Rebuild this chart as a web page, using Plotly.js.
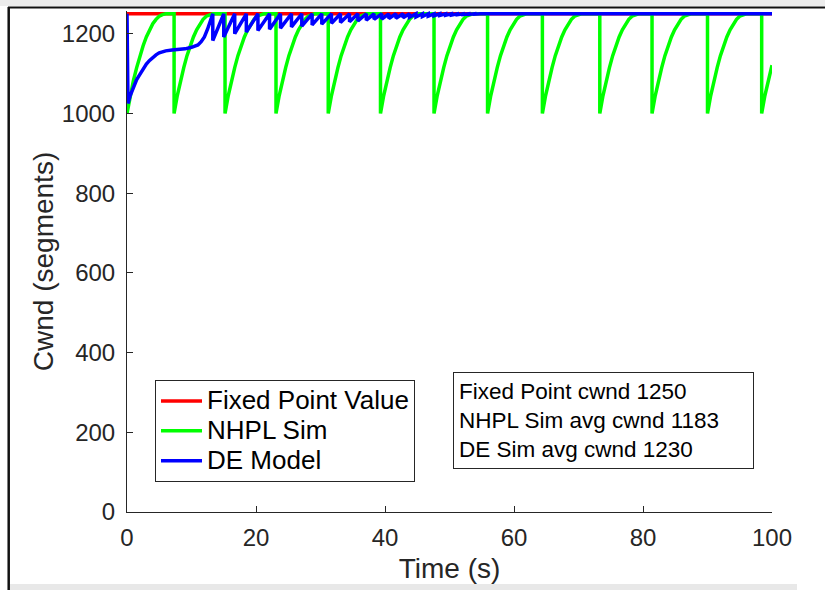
<!DOCTYPE html>
<html>
<head>
<meta charset="utf-8">
<script src="https://cdn.plot.ly/plotly-3.0.1.min.js"></script>
<style>
html,body{margin:0;padding:0;background:#fff;}
#chart{width:825px;height:590px;}
</style>
</head>
<body>
<div id="chart"></div>
<script>
// ---- data ----
const xTicks = [0, 20, 40, 60, 80, 100];
const yTicks = [0, 200, 400, 600, 800, 1000, 1200];

const fixedT = [0, 100];
const fixedV = [1250, 1250];

const nhplT = [
  0, 0.5, 1, 1.5, 2, 2.5, 3, 3.5, 4, 4.5, 5, 5.5, 6,
  7.3, 7.3, 7.8, 8.3, 8.8, 9.3, 9.8, 10.3, 10.8, 11.3, 11.8, 12.3, 12.8, 13.3,
  15.2, 15.2, 15.7, 16.2, 16.7, 17.2, 17.7, 18.2, 18.7, 19.2, 19.7, 20.2, 20.7, 21.2,
  23.1, 23.1, 23.6, 24.1, 24.6, 25.1, 25.6, 26.1, 26.6, 27.1, 27.6, 28.1, 28.6, 29.1,
  31.2, 31.2, 31.7, 32.2, 32.7, 33.2, 33.7, 34.2, 34.7, 35.2, 35.7, 36.2, 36.7, 37.2,
  39.3, 39.3, 39.8, 40.3, 40.8, 41.3, 41.8, 42.3, 42.8, 43.3, 43.8, 44.3, 44.8, 45.3,
  47.6, 47.6, 48.1, 48.6, 49.1, 49.6, 50.1, 50.6, 51.1, 51.6, 52.1, 52.6, 53.1, 53.6,
  55.9, 55.9, 56.4, 56.9, 57.4, 57.9, 58.4, 58.9, 59.4, 59.9, 60.4, 60.9, 61.4, 61.9,
  64.4, 64.4, 64.9, 65.4, 65.9, 66.4, 66.9, 67.4, 67.9, 68.4, 68.9, 69.4, 69.9, 70.4,
  73.3, 73.3, 73.8, 74.3, 74.8, 75.3, 75.8, 76.3, 76.8, 77.3, 77.8, 78.3, 78.8, 79.3,
  81.4, 81.4, 81.9, 82.4, 82.9, 83.4, 83.9, 84.4, 84.9, 85.4, 85.9, 86.4, 86.9, 87.4,
  90.0, 90.0, 90.5, 91.0, 91.5, 92.0, 92.5, 93.0, 93.5, 94.0, 94.5, 95.0, 95.5, 96.0,
  98.4, 98.4, 98.9, 99.4, 99.9, 100
];
const nhplV = [
  1000, 1045, 1083, 1115, 1145, 1170, 1192, 1210, 1225, 1236, 1244, 1248, 1250,
  1250, 1000, 1045, 1083, 1115, 1145, 1170, 1192, 1210, 1225, 1236, 1244, 1248, 1250,
  1250, 1000, 1045, 1083, 1115, 1145, 1170, 1192, 1210, 1225, 1236, 1244, 1248, 1250,
  1250, 1000, 1045, 1083, 1115, 1145, 1170, 1192, 1210, 1225, 1236, 1244, 1248, 1250,
  1250, 1000, 1045, 1083, 1115, 1145, 1170, 1192, 1210, 1225, 1236, 1244, 1248, 1250,
  1250, 1000, 1045, 1083, 1115, 1145, 1170, 1192, 1210, 1225, 1236, 1244, 1248, 1250,
  1250, 1000, 1045, 1083, 1115, 1145, 1170, 1192, 1210, 1225, 1236, 1244, 1248, 1250,
  1250, 1000, 1045, 1083, 1115, 1145, 1170, 1192, 1210, 1225, 1236, 1244, 1248, 1250,
  1250, 1000, 1045, 1083, 1115, 1145, 1170, 1192, 1210, 1225, 1236, 1244, 1248, 1250,
  1250, 1000, 1045, 1083, 1115, 1145, 1170, 1192, 1210, 1225, 1236, 1244, 1248, 1250,
  1250, 1000, 1045, 1083, 1115, 1145, 1170, 1192, 1210, 1225, 1236, 1244, 1248, 1250,
  1250, 1000, 1045, 1083, 1115, 1145, 1170, 1192, 1210, 1225, 1236, 1244, 1248, 1250,
  1250, 1000, 1045, 1083, 1115, 1121
];

const deT = [
  0, 0.15, 0.5, 1, 1.5, 2, 2.5, 3, 3.5, 4, 4.5, 5, 5.5, 6, 7, 8, 9, 10, 10.5, 11, 11.5, 12, 12.5, 13, 13.3,
  13.3, 15.0, 15.0, 16.7, 16.7, 18.5, 18.5, 20.3, 20.3, 22.1, 22.1, 23.8, 23.8, 25.5, 25.5, 27.1,
  27.1, 28.7, 28.7, 30.2, 30.2, 31.7, 31.7, 33.1, 33.1, 34.5, 34.5, 35.8, 35.8, 37.1, 37.1, 38.3,
  38.3, 39.5, 39.5, 40.6, 40.6, 41.7, 41.7, 42.8, 42.8, 43.8, 43.8, 44.8, 44.8, 45.8, 45.8, 46.7,
  46.7, 47.6, 47.6, 48.5, 48.5, 49.4, 49.4, 50.3, 50.3, 51.2, 51.2, 52.1, 52.1, 53.0, 53.0, 53.9,
  53.9, 54.8, 100
];
const deV = [
  1250, 1025, 1045, 1068, 1085, 1098, 1112, 1124, 1133, 1141, 1147, 1152, 1155, 1157, 1159, 1160, 1162, 1166, 1169, 1172, 1180, 1192, 1212, 1238, 1250,
  1183, 1250, 1192, 1250, 1200, 1250, 1204, 1250, 1208, 1250, 1211, 1250, 1214, 1250, 1217, 1250,
  1219, 1250, 1222, 1250, 1224, 1250, 1226, 1250, 1228, 1250, 1230, 1250, 1232, 1250, 1234, 1250,
  1236, 1250, 1237, 1250, 1238, 1250, 1239, 1250, 1240, 1250, 1241, 1250, 1242, 1250, 1243, 1250,
  1244, 1250, 1245, 1250, 1246, 1250, 1246.5, 1250, 1247, 1250, 1247.5, 1250, 1248, 1250, 1248.5, 1250,
  1249, 1250, 1250
];

const seriesNames = ['Fixed Point Value', 'NHPL Sim', 'DE Model'];
const boxLines = ['Fixed Point cwnd 1250', 'NHPL Sim avg cwnd 1183', 'DE Sim avg cwnd 1230'];

// ---- layout geometry (pixels) ----
const W = 825, H = 590;
const M = {l: 127, r: 53, t: 11, b: 78};
const PW = W - M.l - M.r, PH = H - M.t - M.b;
const px = x => (x - M.l) / PW;
const py = y => (H - M.b - y) / PH;

const FONT = '"Liberation Sans", Arial, Helvetica, sans-serif';
const AX = '#262626';
const legendLabel = s => '<span style="font-size:26px">' + s + '</span>';

const traces = [
  {x: fixedT, y: fixedV, name: legendLabel(seriesNames[0]), type: 'scatter', mode: 'lines',
   line: {color: '#ff0000', width: 3.5}},
  {x: nhplT, y: nhplV, name: legendLabel(seriesNames[1]), type: 'scatter', mode: 'lines',
   line: {color: '#00ff00', width: 3.5}},
  {x: deT, y: deV, name: legendLabel(seriesNames[2]), type: 'scatter', mode: 'lines',
   line: {color: '#0000ff', width: 3.5}}
];

const layout = {
  width: W, height: H,
  margin: M,
  paper_bgcolor: '#ffffff',
  plot_bgcolor: '#ffffff',
  font: {family: FONT, color: AX, size: 24},
  showlegend: true,
  xaxis: {
    range: [0, 100], tickvals: xTicks, ticktext: xTicks.map(String),
    showgrid: false, zeroline: false, showline: true, linecolor: AX, linewidth: 1,
    ticks: 'inside', ticklen: 6, tickwidth: 1, tickcolor: AX,
    tickfont: {family: FONT, size: 24, color: AX},
    ticklabelstandoff: 4,
    title: {text: 'Time (s)', font: {family: FONT, size: 28, color: AX}, standoff: 8},
    automargin: false, fixedrange: true
  },
  yaxis: {
    range: [0, 1257], tickvals: yTicks, ticktext: yTicks.map(String),
    showgrid: false, zeroline: false, showline: true, linecolor: AX, linewidth: 1,
    ticks: 'inside', ticklen: 6, tickwidth: 1, tickcolor: AX,
    tickfont: {family: FONT, size: 24, color: AX},
    ticklabelstandoff: 6,
    title: {text: 'Cwnd (segments)', font: {family: FONT, size: 28, color: AX}, standoff: 0},
    automargin: false, fixedrange: true
  },
  legend: {
    x: px(155), y: py(380), xanchor: 'left', yanchor: 'top',
    bgcolor: '#ffffff', bordercolor: AX, borderwidth: 1,
    font: {family: FONT, size: 20.7, color: '#000000'},
    itemwidth: 41, tracegroupgap: 0
  },
  annotations: [{
    xref: 'paper', yref: 'paper', x: px(453), y: py(372),
    xanchor: 'left', yanchor: 'top', align: 'left', valign: 'middle',
    text: boxLines.join('<br>'), showarrow: false,
    font: {family: FONT, size: 22.5, color: '#000000'},
    bordercolor: AX, borderwidth: 1, borderpad: 5, bgcolor: '#ffffff',
    width: 289, height: 85
  }],
  shapes: [
    {type: 'rect', xref: 'paper', yref: 'paper', x0: px(0), x1: px(825), y0: py(0), y1: py(6),
     fillcolor: '#ececec', line: {width: 0}, layer: 'above'},
    {type: 'line', xref: 'paper', yref: 'paper', x0: px(8), x1: px(825), y0: py(7.5), y1: py(7.5),
     line: {color: '#111111', width: 2}, layer: 'above'},
    {type: 'line', xref: 'paper', yref: 'paper', x0: px(8.7), x1: px(8.7), y0: py(7), y1: py(590),
     line: {color: '#111111', width: 2.5}, layer: 'above'},
    {type: 'rect', xref: 'paper', yref: 'paper', x0: px(10), x1: px(797), y0: py(584), y1: py(590),
     fillcolor: '#e8e8e8', line: {width: 0}, layer: 'above'}
  ]
};

Plotly.newPlot('chart', traces, layout, {staticPlot: true, displayModeBar: false});
</script>
</body>
</html>
